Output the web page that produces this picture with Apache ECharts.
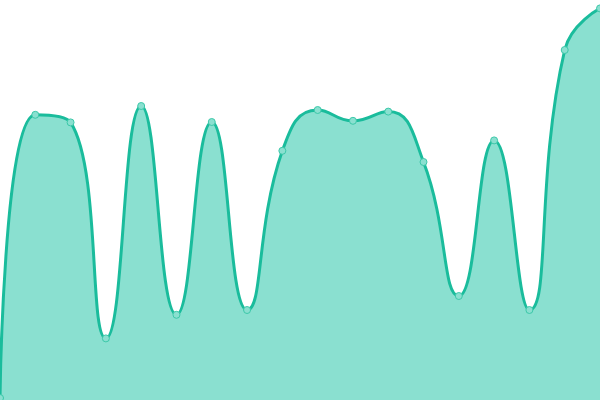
<!DOCTYPE html>
<html>
<head>
<meta charset="utf-8">
<script src="https://cdn.jsdelivr.net/npm/echarts@6/dist/echarts.min.js"></script>
<style>
  html, body { margin: 0; padding: 0; background: #fff; }
  #chart { width: 600px; height: 400px; }
</style>
</head>
<body>
<div id="chart"></div>
<script>
var categories = ['1', '2', '3', '4', '5', '6', '7', '8', '9', '10', '11', '12', '13', '14', '15', '16', '17', '18'];
var values = [0.5, 71.3, 69.4, 15.4, 73.5, 21.3, 69.5, 22.5, 62.3, 72.5, 69.8, 72.1, 59.5, 26, 64.9, 22.5, 87.5, 97.9];

var chart = echarts.init(document.getElementById('chart'));

var option = {
  animation: false,
  grid: {
    top: 0,
    right: 0,
    bottom: 0,
    left: 0
  },
  xAxis: {
    type: 'category',
    data: categories,
    boundaryGap: false,
    show: false
  },
  yAxis: {
    type: 'value',
    min: 0,
    max: 100,
    show: false
  },
  series: [
    {
      type: 'line',
      data: values,
      smooth: 0.5,
      symbol: 'circle',
      symbolSize: 7,
      lineStyle: {
        color: '#1abc9c',
        width: 3
      },
      itemStyle: {
        color: '#8ae0d0',
        borderColor: '#3cc8a9',
        borderWidth: 1
      },
      areaStyle: {
        color: '#8ae0d0',
        opacity: 1
      }
    }
  ]
};

chart.setOption(option);
window.addEventListener('resize', function () {
  chart.resize();
});
</script>
</body>
</html>
